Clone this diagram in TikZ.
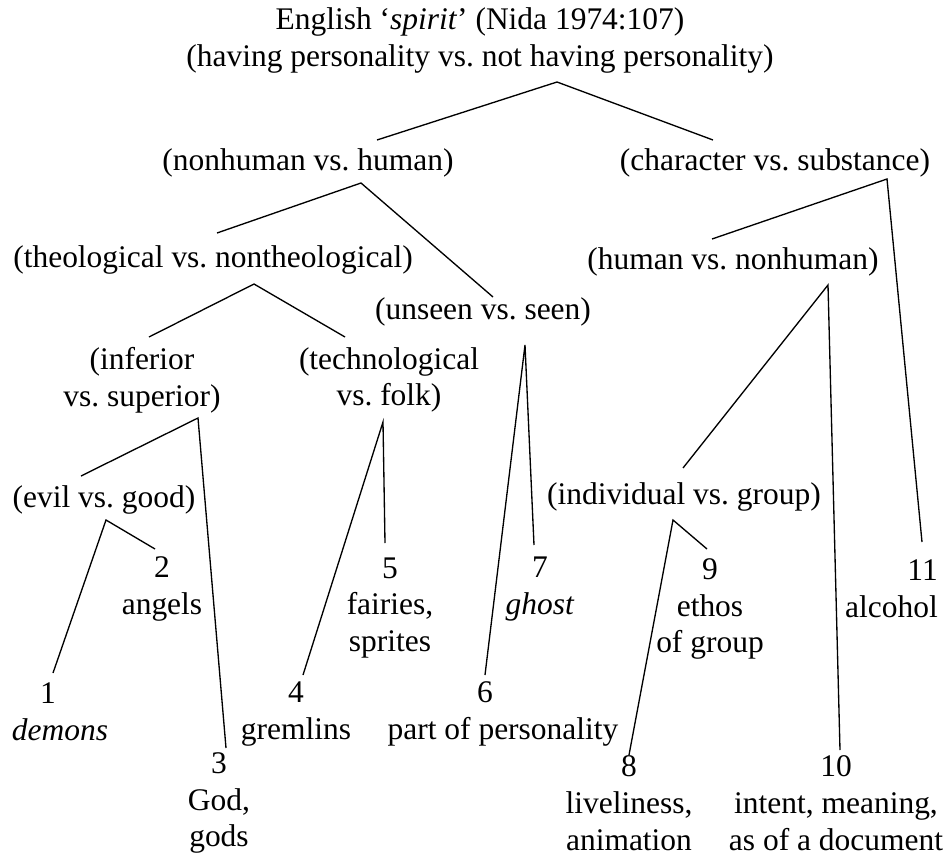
\documentclass[tikz,border=0pt]{standalone}
\usepackage{fontspec}
\setmainfont{Liberation Serif}

\begin{document}
\begin{tikzpicture}[x=0.75pt,y=0.75pt,yscale=-1,xscale=1,
  every node/.style={inner sep=0.75pt,font=\fontsize{23.6}{27.6}\selectfont\frenchspacing},
  contrast/.style={align=center},
  branch/.style={line width=1pt}]
        \path (0,0) rectangle (950,860); %set diagram size 950 x 860

        % Text Node
        \draw (480,40.5) node [contrast] (root) {English ‘\textit{spirit}’ (Nida 1974:107)\\(having personality vs. not having personality)};
        % Text Node
        \draw (308,163) node (nonhuman) {(nonhuman vs. human)};
        % Text Node
        \draw (775,163) node (character) {(character vs. substance)};
        % Text Node
        \draw (213,260) node (theological) {(theological vs. nontheological)};
        % Text Node
        \draw (733,262) node (humanvs) {(human vs. nonhuman)};
        % Text Node
        \draw (483,312) node (unseen) {(unseen vs. seen)};
        % Text Node
        \draw (142,380) node [contrast] (inferior) {(inferior\\vs. superior)};
        % Text Node
        \draw (389,380) node [contrast] (techno) {(technological\\vs. folk)};
        % Text Node
        \draw (104,500) node (evil) {(evil vs. good)};
        % Text Node
        \draw (684,497) node (individual) {(individual vs. group)};

        % Leaves
        \draw (60,712) node [contrast] (leafone) {\hspace*{-18pt}1\\\textit{demons}};
        \draw (162,589) node [contrast] (leaftwo) {2\\angels};
        \draw (219,803) node [contrast] (leafthree) {3\\God,\\gods};
        \draw (296,714) node [contrast] (leaffour) {4\\gremlins};
        \draw (390,608) node [contrast] (leaffive) {5\\fairies,\\sprites};
        \draw (503,714) node [contrast] (leafsix) {\hspace*{-27pt}6\\part of personality};
        \draw (540,589) node [contrast] (leafseven) {7\\\textit{ghost}};
        \draw (629,803) node [contrast] (leafeight) {8\\liveliness,\\animation};
        \draw (710,609) node [contrast] (leafnine) {9\\ethos\\of group};
        \draw (836,803) node [contrast] (leaften) {10\\intent, meaning,\\as of a document};
        \draw (939,589) node [contrast,align=right,anchor=east] (leafeleven) {11\\alcohol};

        % Fork points and line ends
        \coordinate (forkroot) at (557,82);
        \coordinate (endnonhuman) at (377,140);
        \coordinate (endcharacter) at (713,140);
        \coordinate (forknonhuman) at (361,183);
        \coordinate (endtheological) at (217,233);
        \coordinate (endunseen) at (493,297);
        \coordinate (forkcharacter) at (887,179);
        \coordinate (endhumanvs) at (712,239);
        \coordinate (endeleven) at (922,542);
        \coordinate (forktheological) at (254,284);
        \coordinate (endinferior) at (149,337);
        \coordinate (endtechno) at (345,337);
        \coordinate (forkhumanvs) at (828,285);
        \coordinate (endindividual) at (683,468);
        \coordinate (endten) at (840,750);
        \coordinate (forkunseen) at (525,345);
        \coordinate (endsix) at (485,675);
        \coordinate (endseven) at (534,545);
        \coordinate (forkinferior) at (198,418);
        \coordinate (endevil) at (81,476);
        \coordinate (endthree) at (226,748);
        \coordinate (forktechno) at (383,422);
        \coordinate (endfour) at (303,675);
        \coordinate (endfive) at (385,543);
        \coordinate (forkevil) at (106,520);
        \coordinate (endone) at (53,673);
        \coordinate (endtwo) at (155,549);
        \coordinate (forkindividual) at (673,520);
        \coordinate (endeight) at (629,755);
        \coordinate (endnine) at (707,549);

        %Straight Lines
        \draw [branch] (endnonhuman) -- (forkroot) -- (endcharacter);
        \draw [branch] (endtheological) -- (forknonhuman) -- (endunseen);
        \draw [branch] (endhumanvs) -- (forkcharacter) -- (endeleven);
        \draw [branch] (endinferior) -- (forktheological) -- (endtechno);
        \draw [branch] (endindividual) -- (forkhumanvs) -- (endten);
        \draw [branch] (endsix) -- (forkunseen) -- (endseven);
        \draw [branch] (endevil) -- (forkinferior) -- (endthree);
        \draw [branch] (endfour) -- (forktechno) -- (endfive);
        \draw [branch] (endone) -- (forkevil) -- (endtwo);
        \draw [branch] (endeight) -- (forkindividual) -- (endnine);

\end{tikzpicture}
\end{document}
